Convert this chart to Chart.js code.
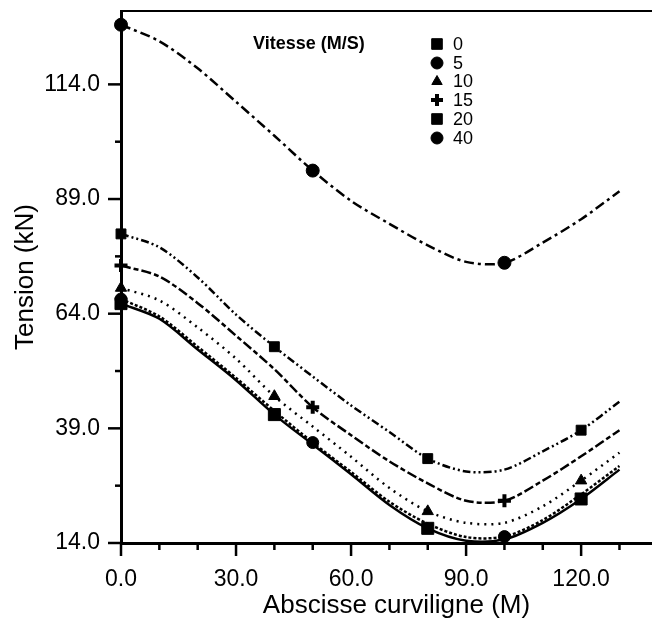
<!DOCTYPE html>
<html>
<head>
<meta charset="utf-8">
<script src="https://cdn.jsdelivr.net/npm/chart.js@4.4.1/dist/chart.umd.min.js"></script>
<style>
html,body{margin:0;padding:0;background:#fff;overflow:hidden;width:652px;height:625px}
#wrap{width:672px;height:625px}
</style>
</head>
<body>
<div id="wrap"><canvas id="c" width="672" height="625"></canvas></div>
<script>
// ---- data ----
const xValues = [0,10,20,30,40,50,60,70,80,90,100,110,120,130];
const speedLabels = ['0','5','10','15','20','40'];
const tension0  = [66.2,62.9,56.2,49.5,42.0,35.5,29.0,22.3,17.2,14.5,14.8,18.4,23.6,30.0];
const tension5  = [67.2,63.4,56.8,50.0,42.8,35.9,29.5,23.0,18.2,15.3,15.4,19.0,24.6,30.8];
const tension10 = [69.6,66.9,61.0,54.2,46.0,39.4,32.8,26.0,20.9,18.4,18.4,22.0,27.6,33.7];
const tension15 = [74.5,72.1,66.3,59.2,51.9,43.6,37.5,31.8,27.0,23.2,23.2,27.6,32.9,38.6];
const tension20 = [81.4,78.5,71.9,63.8,56.8,50.3,44.0,38.2,32.4,29.6,30.0,34.0,38.6,44.8];
const tension40 = [127.0,123.4,117.5,110.2,102.8,95.2,88.6,83.6,78.9,75.3,75.1,79.5,84.6,90.7];
const markers0  = [0,40,80,120];
const markers5  = [0,50,100];
const markers10 = [0,40,80,120];
const markers15 = [0,50,100];
const markers20 = [0,40,80,120];
const markers40 = [0,50,100];
const xTickValues = [0,10,20,30,40,50,60,70,80,90,100,110,120,130];
const xMajorTicks = [0,30,60,90,120];
const yTickValues = [14,26.5,39,51.5,64,76.5,89,101.5,114,126.5];
const yMajorTicks = [14,39,64,89,114];

const FONT = "'Liberation Sans', Arial, Helvetica, sans-serif";

const seriesDefs = [
  {label:speedLabels[0], data:tension0,  marks:markers0,  dash:[],            style:'rect',     r:8.5, bw:1},
  {label:speedLabels[1], data:tension5,  marks:markers5,  dash:[3,2],         style:'circle',   r:6,   bw:1},
  {label:speedLabels[2], data:tension10, marks:markers10, dash:[2,5],         style:'triangle', r:6.5, bw:1},
  {label:speedLabels[3], data:tension15, marks:markers15, dash:[10,3,5,3],    style:'cross',    r:6.5, bw:4},
  {label:speedLabels[4], data:tension20, marks:markers20, dash:[8,3,2,3,2,3], style:'rect',     r:7,   bw:1},
  {label:speedLabels[5], data:tension40, marks:markers40, dash:[10,4,3,4],    style:'circle',   r:6.5, bw:1}
];

const datasets = seriesDefs.map(s => ({
  label: s.label,
  data: xValues.map((x,i) => ({x:x, y:s.data[i]})),
  borderColor:'#000',
  backgroundColor:'#000',
  borderWidth:2.5,
  borderDash:s.dash,
  borderCapStyle:'butt',
  tension:0.3,
  pointStyle:s.style,
  pointRadius: ctx => s.marks.includes(xValues[ctx.dataIndex]) ? s.r : 0,
  pointBorderWidth: s.bw,
  pointBorderColor:'#000',
  pointBackgroundColor:'#000',
  clip:false
}));

function drawMarker(ctx, style, r, bw, x, y){
  if (Chart.helpers && Chart.helpers.drawPoint){
    ctx.fillStyle='#000'; ctx.strokeStyle='#000'; ctx.lineWidth=bw;
    Chart.helpers.drawPoint(ctx, {pointStyle:style, radius:r, borderWidth:bw, rotation:0}, x, y);
    return;
  }
  ctx.beginPath(); ctx.arc(x,y,r,0,Math.PI*2); ctx.fill();
}

const decor = {
  id:'decor',
  afterDraw(chart){
    const {ctx, chartArea:a, scales:{x, y}} = chart;
    ctx.save();
    ctx.strokeStyle='#000';
    ctx.setLineDash([]);
    ctx.lineWidth=2;
    ctx.beginPath(); ctx.moveTo(a.left, a.top); ctx.lineTo(a.right, a.top); ctx.stroke();
    ctx.lineWidth=2.5;
    x.ticks.forEach(t => {
      const px = x.getPixelForValue(t.value);
      const len = xMajorTicks.includes(t.value) ? 13 : 7;
      ctx.beginPath(); ctx.moveTo(px, a.bottom); ctx.lineTo(px, a.bottom+len); ctx.stroke();
    });
    y.ticks.forEach(t => {
      const py = y.getPixelForValue(t.value);
      const len = yMajorTicks.includes(t.value) ? 13 : 6;
      ctx.beginPath(); ctx.moveTo(a.left, py); ctx.lineTo(a.left-len, py); ctx.stroke();
    });
    ctx.fillStyle='#000';
    ctx.textBaseline='middle';
    ctx.textAlign='left';
    ctx.font = "bold 18px " + FONT;
    ctx.fillText('Vitesse (M/S)', 253, 44);
    ctx.font = "18px " + FONT;
    const rowsY = [44,63,81.5,100,119,138];
    seriesDefs.forEach((s,i) => {
      const ry = rowsY[i];
      drawMarker(ctx, s.style, s.style==='cross'?6:(s.style==='rect'?7.5:6), s.bw, 437, ry);
      ctx.fillStyle='#000';
      ctx.fillText(s.label, 453, ry+1);
    });
    ctx.restore();
  }
};

new Chart(document.getElementById('c'), {
  type:'line',
  data:{datasets},
  options:{
    responsive:false,
    animation:false,
    devicePixelRatio:1,
    layout:{autoPadding:false, padding:{left:0, right:0, top:11, bottom:0}},
    plugins:{legend:{display:false}, tooltip:{enabled:false}},
    scales:{
      x:{
        type:'linear', min:0, max:143.7,
        afterBuildTicks: s => { s.ticks = xTickValues.map(v => ({value:v})); },
        afterFit: s => { s.height = 82; s.paddingLeft = 0; s.paddingRight = 0; },
        grid:{display:false},
        border:{display:true, color:'#000', width:3},
        ticks:{
          autoSkip:false, maxRotation:0,
          padding:15, color:'#000', font:{family:FONT, size:23},
          callback: v => xMajorTicks.includes(v) ? v.toFixed(1) : ''
        },
        title:{display:true, text:'Abscisse curviligne (M)', color:'#000',
               font:{family:FONT, size:26}, padding:{top:0, bottom:4}}
      },
      y:{
        type:'linear', min:14, max:130,
        afterBuildTicks: s => { s.ticks = yTickValues.map(v => ({value:v})); },
        afterFit: s => { s.width = 121; s.paddingTop = 0; s.paddingBottom = 0; },
        grid:{display:false},
        border:{display:true, color:'#000', width:3},
        ticks:{
          autoSkip:false,
          padding:13, color:'#000', font:{family:FONT, size:23},
          callback: v => yMajorTicks.includes(v) ? v.toFixed(1) : ''
        },
        title:{display:true, text:'Tension (kN)', color:'#000',
               font:{family:FONT, size:26}, padding:{top:10, bottom:0}}
      }
    }
  },
  plugins:[decor]
});
</script>
</body>
</html>
